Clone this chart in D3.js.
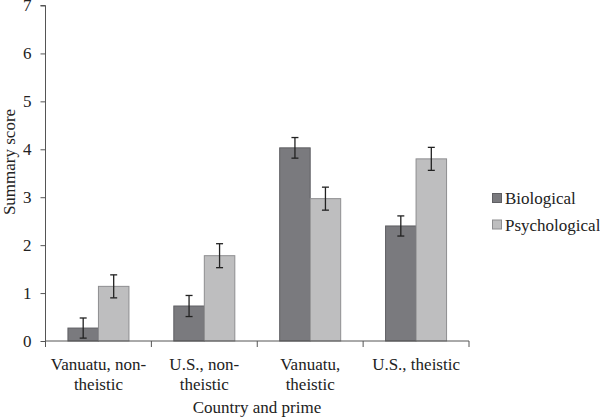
<!DOCTYPE html>
<html><head><meta charset="utf-8">
<script src="https://cdn.jsdelivr.net/npm/d3@7"></script>
<style>body{margin:0;background:#fff}svg{display:block}</style>
</head><body><svg id="c" width="600" height="419"></svg>
<script>
const categories = [["Vanuatu, non-","theistic"],["U.S., non-","theistic"],["Vanuatu,","theistic"],["U.S., theistic"]];
const seriesNames = ["Biological","Psychological"];
const biological = [0.27, 0.73, 4.03, 2.40];
const psychological = [1.14, 1.78, 2.97, 3.80];
const bioErr = [0.21, 0.22, 0.215, 0.21];
const psychErr = [0.24, 0.25, 0.24, 0.24];
const yTicks = [0,1,2,3,4,5,6,7];

(function(){
const FONT = "'Liberation Serif'";
const fills = ["#7a7a7e","#bebebf"];
const strokes = ["#5f5f63","#8e8e90"];
const svg = d3.select("#c");
const pL = 45.5, pR = 469, pT = 5.5, pB = 341;
const x = d3.scaleBand().domain(d3.range(categories.length)).range([pL,pR]).paddingInner(0).paddingOuter(0);
const y = d3.scaleLinear().domain([0,7]).range([pB,pT]);
const barW = 30.5;
const series = [biological, psychological];
const errs = [bioErr, psychErr];

// y axis
const ya = svg.append("g").attr("transform",`translate(${pL},0)`)
  .call(d3.axisLeft(y).tickValues(yTicks).tickSize(5).tickPadding(9).tickFormat(d3.format("d")));
ya.attr("font-family",null);
ya.select(".domain").attr("stroke","#555").attr("d",`M-5,${pT}H0V${pB}`);
ya.selectAll(".tick line").attr("stroke","#555");
ya.selectAll(".tick text").attr("font-size",17).style("font-family",FONT).attr("fill","#222");

// bars
series.forEach((vals,s)=>{
  svg.append("g").selectAll("rect").data(vals).join("rect")
    .attr("x",(d,i)=>x(i)+x.bandwidth()/2-barW+s*barW)
    .attr("y",d=>y(d)).attr("width",barW).attr("height",d=>y(0)-y(d))
    .attr("fill",fills[s]).attr("stroke",strokes[s]).attr("stroke-width",1);
});
// error bars
series.forEach((vals,s)=>{
  const g = svg.append("g").attr("stroke","#222").attr("stroke-width",1.3);
  vals.forEach((v,i)=>{
    const cx = x(i)+x.bandwidth()/2-barW/2+s*barW;
    const e = errs[s][i];
    g.append("line").attr("x1",cx).attr("x2",cx).attr("y1",y(v+e)).attr("y2",y(v-e));
    g.append("line").attr("x1",cx-3.5).attr("x2",cx+3.5).attr("y1",y(v+e)).attr("y2",y(v+e));
    g.append("line").attr("x1",cx-3.5).attr("x2",cx+3.5).attr("y1",y(v-e)).attr("y2",y(v-e));
  });
});

// x axis
const xa = svg.append("g").attr("transform",`translate(0,${pB})`);
xa.append("line").attr("x1",pL).attr("x2",pR).attr("stroke","#555");
const bounds = d3.range(categories.length+1).map(i=> i<categories.length ? x(i) : pR);
xa.selectAll(".tk").data(bounds).join("line").attr("x1",d=>d).attr("x2",d=>d).attr("y1",0).attr("y2",6).attr("stroke","#555");
categories.forEach((lines,i)=>{
  const t = xa.append("text").attr("text-anchor","middle").attr("font-size",17).style("font-family",FONT).attr("fill","#222")
    .attr("x",x(i)+x.bandwidth()/2).attr("y",29);
  lines.forEach((ln,k)=>t.append("tspan").attr("x",x(i)+x.bandwidth()/2).attr("dy",k===0?0:20).text(ln));
});

// titles
svg.append("text").attr("x",257).attr("y",413).attr("text-anchor","middle").attr("font-size",17).style("font-family",FONT).attr("fill","#222").text("Country and prime");
svg.append("text").attr("transform","translate(15,162) rotate(-90)").attr("text-anchor","middle").attr("font-size",17).style("font-family",FONT).attr("fill","#222").text("Summary score");

// legend
const lg = svg.append("g");
seriesNames.forEach((n,s)=>{
  const yy = 198 + s*26.5;
  lg.append("rect").attr("x",492.5).attr("y",yy-4.5).attr("width",9).attr("height",9).attr("fill",fills[s]).attr("stroke",strokes[s]);
  lg.append("text").attr("x",505).attr("y",yy+6).attr("font-size",17).style("font-family",FONT).attr("fill","#222").text(n);
});
})();
</script></body></html>
